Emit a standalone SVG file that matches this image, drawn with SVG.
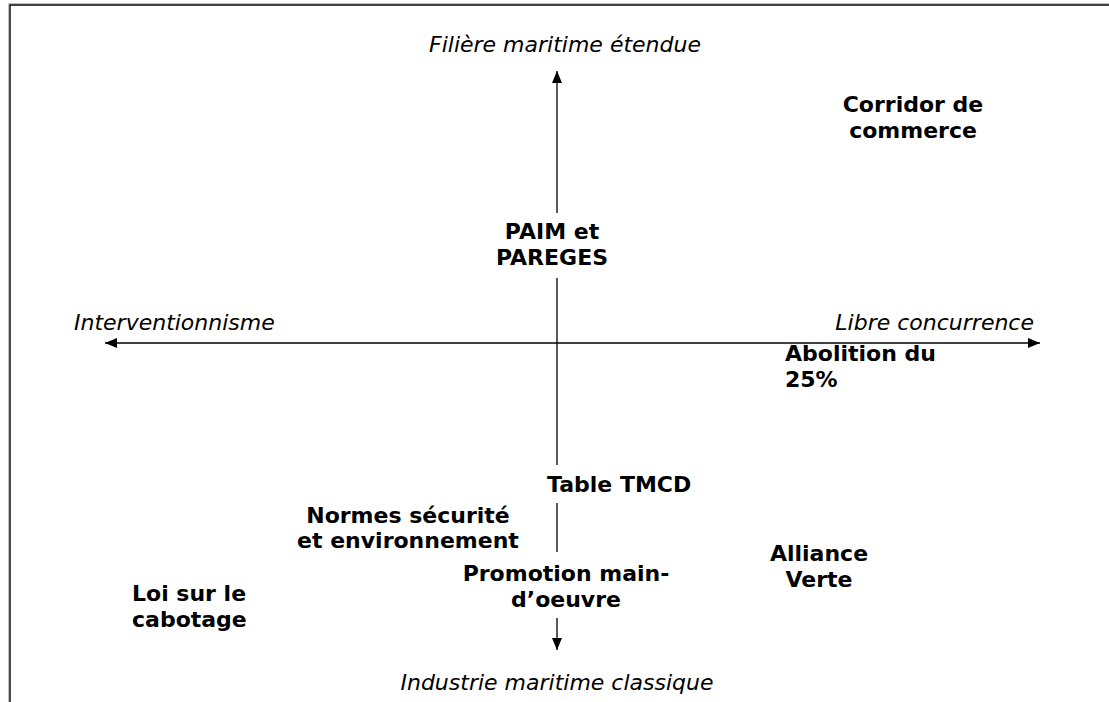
<svg xmlns="http://www.w3.org/2000/svg" width="1109" height="702" viewBox="0 0 1109 702">
  <style>
    .axis { stroke: #000; stroke-width: 1.3; fill: none; }
    .pole { font-family: "DejaVu Sans", Verdana, sans-serif; font-size: 22px; font-style: italic; fill: #000; }
    .item { font-family: "DejaVu Sans", Verdana, sans-serif; font-size: 22px; font-weight: bold; fill: #000; }
  </style>
  <defs>
    <marker id="head" viewBox="0 0 12 10" refX="12" refY="5" markerWidth="12" markerHeight="10" markerUnits="userSpaceOnUse" orient="auto-start-reverse">
      <path d="M0,0 L12,5 L0,10 Z" fill="#000"/>
    </marker>
  </defs>
  <rect width="1109" height="702" fill="#fff"/>

  <!-- page frame: top and left edges -->
  <g id="frame">
    <path d="M8.5,702 V3.5 H1109" stroke="#c0c0c0" stroke-width="1" fill="none"/>
    <path d="M10,702 V5 H1109" stroke="#000" stroke-width="1.4" fill="none"/>
  </g>

  <!-- axes -->
  <g id="connectors">
    <line class="axis" x1="105" y1="343" x2="1040" y2="343" marker-start="url(#head)" marker-end="url(#head)"/>
    <line class="axis" x1="557" y1="71" x2="557" y2="213" marker-start="url(#head)"/>
    <line class="axis" x1="557" y1="278" x2="557" y2="465"/>
    <line class="axis" x1="557" y1="503" x2="557" y2="552"/>
    <line class="axis" x1="557" y1="618" x2="557" y2="650" marker-end="url(#head)"/>
  </g>

  <!-- axis poles -->
  <g id="pole-top"><text class="pole" x="565" y="52" text-anchor="middle">Filière maritime étendue</text></g>
  <g id="pole-bottom"><text class="pole" x="557" y="690" text-anchor="middle">Industrie maritime classique</text></g>
  <g id="pole-left"><text class="pole" x="74" y="330">Interventionnisme</text></g>
  <g id="pole-right"><text class="pole" x="1034" y="330" text-anchor="end">Libre concurrence</text></g>

  <!-- positioned items -->
  <g id="corridor">
    <text class="item" x="913" y="112" text-anchor="middle">Corridor de</text>
    <text class="item" x="913" y="138" text-anchor="middle">commerce</text>
  </g>
  <g id="paim">
    <text class="item" x="552" y="239" text-anchor="middle">PAIM et</text>
    <text class="item" x="552" y="265" text-anchor="middle">PAREGES</text>
  </g>
  <g id="abolition">
    <text class="item" x="785" y="361">Abolition du</text>
    <text class="item" x="785" y="387">25%</text>
  </g>
  <g id="table-tmcd">
    <text class="item" x="547" y="492">Table TMCD</text>
  </g>
  <g id="normes">
    <text class="item" x="408" y="523" text-anchor="middle">Normes sécurité</text>
    <text class="item" x="408" y="548" text-anchor="middle">et environnement</text>
  </g>
  <g id="alliance">
    <text class="item" x="819" y="561" text-anchor="middle">Alliance</text>
    <text class="item" x="819" y="587" text-anchor="middle">Verte</text>
  </g>
  <g id="promotion">
    <text class="item" x="566" y="581" text-anchor="middle">Promotion main-</text>
    <text class="item" x="566" y="607" text-anchor="middle">d’oeuvre</text>
  </g>
  <g id="cabotage">
    <text class="item" x="132" y="601">Loi sur le</text>
    <text class="item" x="132" y="627">cabotage</text>
  </g>
</svg>
